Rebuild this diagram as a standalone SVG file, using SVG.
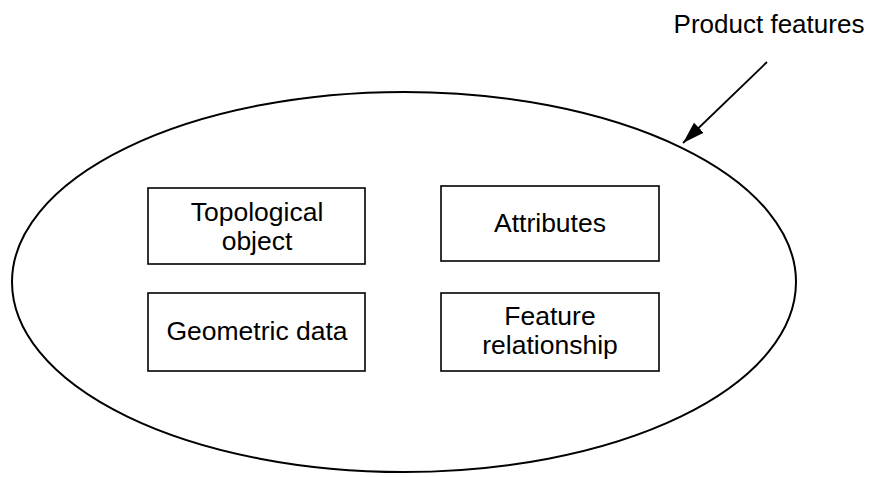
<svg xmlns="http://www.w3.org/2000/svg" width="872" height="477" viewBox="0 0 872 477">
<style>
  .box { fill: #fff; stroke: #000; stroke-width: 1.6; }
  .lbl { font-family: "Liberation Sans", Arial, sans-serif; font-size: 26.5px; fill: #000; text-anchor: middle; }
  .title { font-size: 26px; }
  .edge { stroke: #000; stroke-width: 1.8; fill: none; }
</style>
<defs>
  <marker id="ah" markerUnits="userSpaceOnUse" markerWidth="24" markerHeight="18" refX="22" refY="8" orient="auto">
    <path d="M0,1 L22,8 L0,15 Z" fill="#000"/>
  </marker>
</defs>
<rect width="872" height="477" fill="#fff"/>
<g id="product-features">
  <ellipse cx="404" cy="282" rx="392" ry="190" fill="none" stroke="#000" stroke-width="2"/>
  <text class="lbl title" x="769" y="33">Product features</text>
</g>
<g id="topological-object">
  <rect class="box" x="148" y="188" width="217" height="76"/>
  <text class="lbl" x="257" y="221">Topological</text>
  <text class="lbl" x="257" y="250">object</text>
</g>
<g id="attributes">
  <rect class="box" x="441" y="186" width="218" height="75"/>
  <text class="lbl" x="550" y="232">Attributes</text>
</g>
<g id="geometric-data">
  <rect class="box" x="148" y="293" width="217" height="78"/>
  <text class="lbl" x="257" y="340">Geometric data</text>
</g>
<g id="feature-relationship">
  <rect class="box" x="441" y="293" width="218" height="78"/>
  <text class="lbl" x="550" y="325">Feature</text>
  <text class="lbl" x="550" y="354">relationship</text>
</g>
<g id="connectors">
  <line class="edge" x1="767" y1="62" x2="683" y2="143" marker-end="url(#ah)"/>
</g>
</svg>
